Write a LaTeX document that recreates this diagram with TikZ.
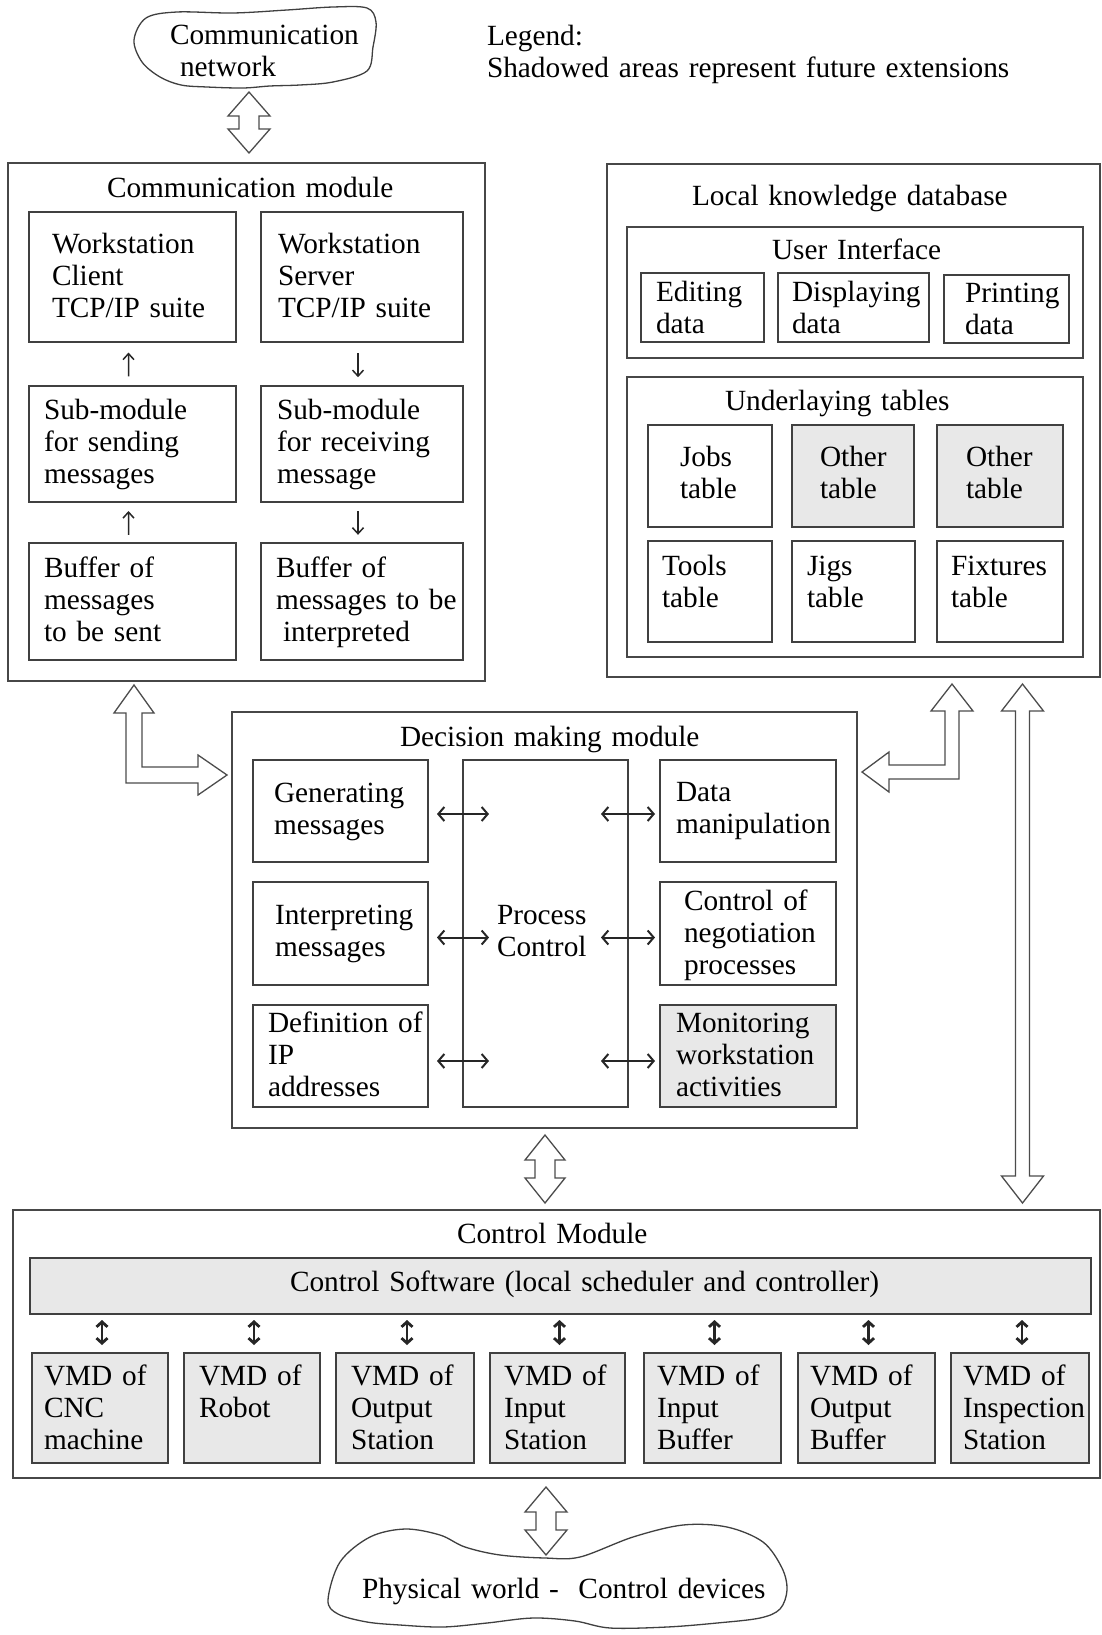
\documentclass[tikz,border=0pt]{standalone}
\usepackage{fontspec}
\setmainfont{Liberation Serif}
\usetikzlibrary{calc,arrows.meta}

% rectangle node given by its top-left and bottom-right corners
\newcommand\boxat[6][box]{%
  \node[#1,anchor=north west,minimum width={#5-#3},minimum height={#6-#4}] (#2) at (#3,#4) {};}

% hollow vertical double arrow: top tip, bottom tip, head half-width, shaft half-width, head length
\newcommand\vdbl[5]{%
  \draw[hollow] let \p1=(#1), \p2=(#2) in
    (\x1,\y1) -- (\x1+#3pt,\y1-#5pt) -- (\x1+#4pt,\y1-#5pt) -- (\x1+#4pt,\y2+#5pt)
    -- (\x1+#3pt,\y2+#5pt) -- (\x1,\y2) -- (\x1-#3pt,\y2+#5pt) -- (\x1-#4pt,\y2+#5pt)
    -- (\x1-#4pt,\y1-#5pt) -- (\x1-#3pt,\y1-#5pt) -- cycle;}

\begin{document}
\begin{tikzpicture}[x=1pt,y=-1pt,
  every node/.style={inner sep=0pt,outer sep=0pt},
  frame/.style={draw=black!72,line width=1.4pt},
  box/.style={draw=black!75,line width=1.3pt},
  future/.style={box,fill=black!9},
  txt/.style={anchor=base west,align=left,text width=800pt,
              font=\fontsize{29.3}{32}\selectfont},
  hollow/.style={draw=black!70,line width=1.3pt,fill=white,line join=miter},
  cloudline/.style={draw=black!75,line width=1.3pt},
  sarrow/.style={draw=black!85,line width=1.5pt,-{Straight Barb[length=6pt,width=11pt]}},
  harrow/.style={draw=black!85,line width=2pt,{Straight Barb[length=6pt,width=14pt]}-{Straight Barb[length=6pt,width=14pt]}},
  varrow/.style={draw=black!85,line width=2.8pt,{Straight Barb[length=5pt,width=11pt]}-{Straight Barb[length=5pt,width=11pt]}}
]
\useasboundingbox (0,0) rectangle (1102,1635);
\fill[white] (0,0) rectangle (1102,1635);

% ---------- communication network cloud and legend ----------
\draw[cloudline] plot[smooth cycle,tension=0.55] coordinates {
  (134,40) (146,18) (177,12) (233,13) (287,10) (333,7) (367,8) (376,22)
  (373,47) (367,71) (333,82) (300,85) (270,86) (243,88) (207,87) (181,85)
  (160,77) (142,62)};
\node[txt] (cnet) at (170,45) {Communication\\\hspace*{10pt}network};
\node[txt] (legend) at (487,46) {Legend:\\Shadowed areas represent future extensions};

% ---------- communication module ----------
\boxat[frame]{comm}{8}{163}{485}{681}
\node[txt] (commT) at (107,197) {Communication module};
\boxat{wsc}{29}{212}{236}{342}
\boxat{wss}{261}{212}{463}{342}
\boxat{subs}{29}{386}{236}{502}
\boxat{subr}{261}{386}{463}{502}
\boxat{bufs}{29}{543}{236}{660}
\boxat{bufi}{261}{543}{463}{660}
\node[txt] (wscT) at (52,253) {Workstation\\Client\\TCP/IP suite};
\node[txt] (wssT) at (278,253) {Workstation\\Server\\TCP/IP suite};
\node[txt] (subsT) at (44,419) {Sub-module\\for sending\\messages};
\node[txt] (subrT) at (277,419) {Sub-module\\for receiving\\message};
\node[txt] (bufsT) at (44,577) {Buffer of\\messages\\to be sent};
\node[txt] (bufiT) at (276,577) {Buffer of\\messages to be\\\hspace*{7pt}interpreted};
\draw[sarrow] ($(subs.north)!0.22!(wsc.south)+(-4,0)$) -- ($(subs.north)!0.76!(wsc.south)+(-4,0)$);
\draw[sarrow] ($(bufs.north)!0.2!(subs.south)+(-4,0)$) -- ($(bufs.north)!0.78!(subs.south)+(-4,0)$);
\draw[sarrow] ($(wss.south)!0.25!(subr.north)+(-4,0)$) -- ($(wss.south)!0.8!(subr.north)+(-4,0)$);
\draw[sarrow] ($(subr.south)!0.22!(bufi.north)+(-4,0)$) -- ($(subr.south)!0.8!(bufi.north)+(-4,0)$);

% ---------- local knowledge database ----------
\boxat[frame]{lkd}{607}{164}{1100}{677}
\node[txt] (lkdT) at (692,205) {Local knowledge database};
\boxat[frame]{ui}{627}{227}{1083}{358}
\node[txt] (uiT) at (772,259) {User Interface};
\boxat{edit}{641}{273}{764}{342}
\boxat{disp}{778}{273}{929}{342}
\boxat{prnt}{944}{275}{1069}{343}
\node[txt] (editT) at (656,301) {Editing\\data};
\node[txt] (dispT) at (792,301) {Displaying\\data};
\node[txt] (prntT) at (965,302) {Printing\\data};
\boxat[frame]{utab}{627}{377}{1083}{657}
\node[txt] (utabT) at (725,410) {Underlaying tables};
\boxat{jobs}{648}{425}{772}{527}
\boxat[future]{oth1}{792}{425}{914}{527}
\boxat[future]{oth2}{937}{425}{1063}{527}
\boxat{tools}{648}{541}{772}{642}
\boxat{jigs}{792}{541}{915}{642}
\boxat{fixt}{937}{541}{1063}{642}
\node[txt] (jobsT) at (680,466) {Jobs\\table};
\node[txt] (oth1T) at (820,466) {Other\\table};
\node[txt] (oth2T) at (966,466) {Other\\table};
\node[txt] (toolsT) at (662,575) {Tools\\table};
\node[txt] (jigsT) at (807,575) {Jigs\\table};
\node[txt] (fixtT) at (951,575) {Fixtures\\table};

% ---------- decision making module ----------
\boxat[frame]{dec}{232}{712}{857}{1128}
\node[txt] (decT) at (400,746) {Decision making module};
\boxat{gen}{253}{760}{428}{862}
\boxat{pc}{463}{760}{628}{1107}
\boxat{data}{660}{760}{836}{862}
\boxat{interp}{253}{882}{428}{985}
\boxat{neg}{660}{882}{836}{985}
\boxat{defip}{253}{1005}{428}{1107}
\boxat[future]{mon}{660}{1005}{836}{1107}
\node[txt] (genT) at (274,802) {Generating\\messages};
\node[txt] (dataT) at (676,801) {Data\\manipulation};
\node[txt] (interpT) at (275,924) {Interpreting\\messages};
\node[txt] (pcT) at (497,924) {Process\\Control};
\node[txt] (negT) at (684,910) {Control of\\negotiation\\processes};
\node[txt] (defipT) at (268,1032) {Definition of\\IP\\addresses};
\node[txt] (monT) at (676,1032) {Monitoring\\workstation\\activities};
\draw[harrow] ([xshift=9pt,yshift=-3pt]gen.east) -- ([xshift=61pt,yshift=-3pt]gen.east);
\draw[harrow] ([xshift=9pt,yshift=-4pt]interp.east) -- ([xshift=61pt,yshift=-4pt]interp.east);
\draw[harrow] ([xshift=9pt,yshift=-5pt]defip.east) -- ([xshift=61pt,yshift=-5pt]defip.east);
\draw[harrow] ([xshift=-59pt,yshift=-3pt]data.west) -- ([xshift=-5pt,yshift=-3pt]data.west);
\draw[harrow] ([xshift=-59pt,yshift=-4pt]neg.west) -- ([xshift=-5pt,yshift=-4pt]neg.west);
\draw[harrow] ([xshift=-59pt,yshift=-5pt]mon.west) -- ([xshift=-5pt,yshift=-5pt]mon.west);

% ---------- control module ----------
\boxat[frame]{ctrl}{13}{1210}{1100}{1478}
\node[txt] (ctrlT) at (457,1243) {Control Module};
\boxat[future]{csw}{30}{1258}{1091}{1314}
\node[txt] (cswT) at (290,1291) {Control Software (local scheduler and controller)};
\boxat[future]{v1}{32}{1353}{168}{1463}
\boxat[future]{v2}{184}{1353}{320}{1463}
\boxat[future]{v3}{336}{1353}{474}{1463}
\boxat[future]{v4}{490}{1353}{625}{1463}
\boxat[future]{v5}{644}{1353}{781}{1463}
\boxat[future]{v6}{798}{1353}{935}{1463}
\boxat[future]{v7}{951}{1353}{1089}{1463}
\node[txt] (v1T) at (44,1385) {VMD of\\CNC\\machine};
\node[txt] (v2T) at (199,1385) {VMD of\\Robot};
\node[txt] (v3T) at (351,1385) {VMD of\\Output\\Station};
\node[txt] (v4T) at (504,1385) {VMD of\\Input\\Station};
\node[txt] (v5T) at (657,1385) {VMD of\\Input\\Buffer};
\node[txt] (v6T) at (810,1385) {VMD of\\Output\\Buffer};
\node[txt] (v7T) at (963,1385) {VMD of\\Inspection\\Station};
\foreach \v in {v1,v2,v3,v4,v5,v6,v7}
  \draw[varrow] ([xshift=2pt,yshift=33pt]\v.north) -- ([xshift=2pt,yshift=8pt]\v.north);

% ---------- physical world cloud ----------
\draw[cloudline] plot[smooth cycle,tension=0.55] coordinates {
  (328,1600) (340,1562) (370,1537) (405,1529) (440,1535) (465,1547) (500,1555)
  (545,1558) (580,1557) (633,1537) (683,1525) (727,1527) (763,1542) (782,1568)
  (787,1590) (780,1609) (760,1618) (717,1623) (667,1627) (610,1628) (575,1621)
  (533,1618) (487,1623) (443,1627) (400,1625) (367,1622) (338,1614)};
\node[txt] (phys) at (362,1598) {Physical world - \ Control devices};

% ---------- broad (hollow) connectors ----------
\coordinate (a1t) at ($(comm.north)+(2.5,-71)$);
\coordinate (a1b) at ($(comm.north)+(2.5,-10)$);
\vdbl{a1t}{a1b}{21}{10}{24}

\coordinate (a2t) at ($(dec.south)+(0.5,7)$);
\coordinate (a2b) at ($(dec.south)+(0.5,75)$);
\vdbl{a2t}{a2b}{20}{10}{25}

\coordinate (a3t) at ($(ctrl.south)+(-10.5,9)$);
\coordinate (a3b) at ($(a3t)+(0,68)$);
\vdbl{a3t}{a3b}{21}{10}{25}

\coordinate (la) at ($(lkd.south east)+(-77.5,7)$);
\coordinate (lb) at ($(ctrl.north east)+(-77.5,-7)$);
\vdbl{la}{lb}{21}{7}{27}

% elbow: communication module <-> decision making module
\coordinate (e1a) at ($(comm.south west)+(126,4)$);
\coordinate (e1b) at ($(dec.north west)+(-5,63)$);
\draw[hollow] let \p1=(e1a), \p2=(e1b) in
  (\x1,\y1) -- (\x1+20pt,\y1-28pt) -- (\x1+8pt,\y1-28pt) -- (\x1+8pt,\y2+8pt)
  -- (\x2-29pt,\y2+8pt) -- (\x2-29pt,\y2+20pt) -- (\x2,\y2) -- (\x2-29pt,\y2-20pt)
  -- (\x2-29pt,\y2-8pt) -- (\x1-8pt,\y2-8pt) -- (\x1-8pt,\y1-28pt) -- (\x1-20pt,\y1-28pt) -- cycle;

% elbow: local knowledge database <-> decision making module
\coordinate (e2a) at ($(lkd.south west)+(345,7)$);
\coordinate (e2b) at ($(dec.north east)+(5,60)$);
\draw[hollow] let \p1=(e2a), \p2=(e2b) in
  (\x1,\y1) -- (\x1+21pt,\y1-27pt) -- (\x1+7pt,\y1-27pt) -- (\x1+7pt,\y2-7pt)
  -- (\x2+27pt,\y2-7pt) -- (\x2+27pt,\y2-20pt) -- (\x2,\y2) -- (\x2+27pt,\y2+20pt)
  -- (\x2+27pt,\y2+7pt) -- (\x1-7pt,\y2+7pt) -- (\x1-7pt,\y1-27pt) -- (\x1-21pt,\y1-27pt) -- cycle;
\end{tikzpicture}
\end{document}
